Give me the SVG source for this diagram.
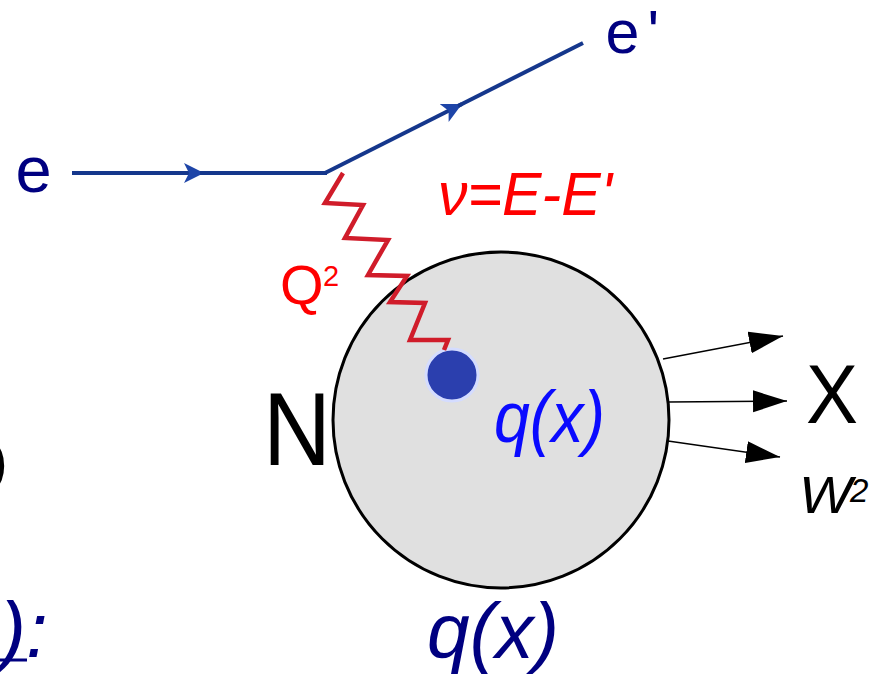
<svg xmlns="http://www.w3.org/2000/svg" width="889" height="674" viewBox="0 0 889 674">
<style>
text{font-family:"Liberation Sans",Arial,sans-serif}
.navy{fill:#000080}
.red{fill:#ff0000}
.it{font-style:italic}
.eline{fill:none;stroke:#15378c;stroke-width:4}
.out{fill:none;stroke:#000;stroke-width:1.5}
</style>
<defs>
<marker id="earr" markerUnits="userSpaceOnUse" markerWidth="24" markerHeight="22" refX="20" refY="10" orient="auto">
<path d="M0,0 L20,10 L0,20 L5,10 z" fill="#1e45a8"/>
</marker>
<marker id="karr" markerUnits="userSpaceOnUse" markerWidth="36" markerHeight="24" refX="34" refY="11" orient="auto">
<path d="M0,0 L34,11 L0,22 z" fill="#000"/>
</marker>
</defs>
<rect width="889" height="674" fill="#fff"/>

<g id="nucleon">
<circle cx="501" cy="420" r="168" fill="#e0e0e0" stroke="#000" stroke-width="3"/>
</g>
<g id="quark">
<circle cx="452" cy="375" r="26" fill="#2b3fae" stroke="#d4dcff" stroke-width="3"/>
</g>

<g id="connectors">
<path class="eline" d="M72,173 L204,173" marker-end="url(#earr)"/>
<path class="eline" d="M200,173 L327,173"/>
<path class="eline" d="M325,173 L462,104" marker-end="url(#earr)"/>
<path class="eline" d="M458,106 L583,43"/>
<polyline points="343,173 325,203 363,205 345,238 388,240 368,275 407,276 390,302 425,303 410,340 448,340 444,350" fill="none" stroke="#d01c2a" stroke-width="4.5" stroke-linejoin="miter"/>
<path class="out" d="M663,359 L783,336" marker-end="url(#karr)"/>
<path class="out" d="M668,402 L787,401" marker-end="url(#karr)"/>
<path class="out" d="M668,441 L780,457" marker-end="url(#karr)"/>
</g>

<g id="labels">
<text class="navy" x="15.5" y="192" font-size="65">e</text>
<text class="navy" x="605.5" y="53" font-size="61">e<tspan dx="8">'</tspan></text>
<text class="red it" x="438" y="215" font-size="62" textLength="174" lengthAdjust="spacingAndGlyphs">ν=E-E'</text>
<text class="red" x="280" y="304" font-size="56">Q</text>
<text class="red" x="323" y="286" font-size="29">2</text>
<text x="263" y="465" font-size="104" textLength="68" lengthAdjust="spacingAndGlyphs" fill="#000">N</text>
<text x="806" y="423" font-size="84" textLength="52" lengthAdjust="spacingAndGlyphs" fill="#000">X</text>
<text class="it" x="799" y="513" font-size="52" textLength="53" lengthAdjust="spacingAndGlyphs" fill="#000">W</text>
<text class="it" x="850" y="502" font-size="33" fill="#000">2</text>
<text class="it" x="494" y="442" font-size="72" textLength="111" lengthAdjust="spacingAndGlyphs" fill="#0a0aff">q(x)</text>
<text class="navy it" x="427" y="658" font-size="77" textLength="132" lengthAdjust="spacingAndGlyphs">q(x)</text>
<text x="-11" y="480" font-size="56" fill="#000">)</text>
<text class="navy it" x="0" y="657" font-size="78">):</text>
<line x1="0" y1="660" x2="27" y2="660" stroke="#000080" stroke-width="3"/>
</g>
</svg>
